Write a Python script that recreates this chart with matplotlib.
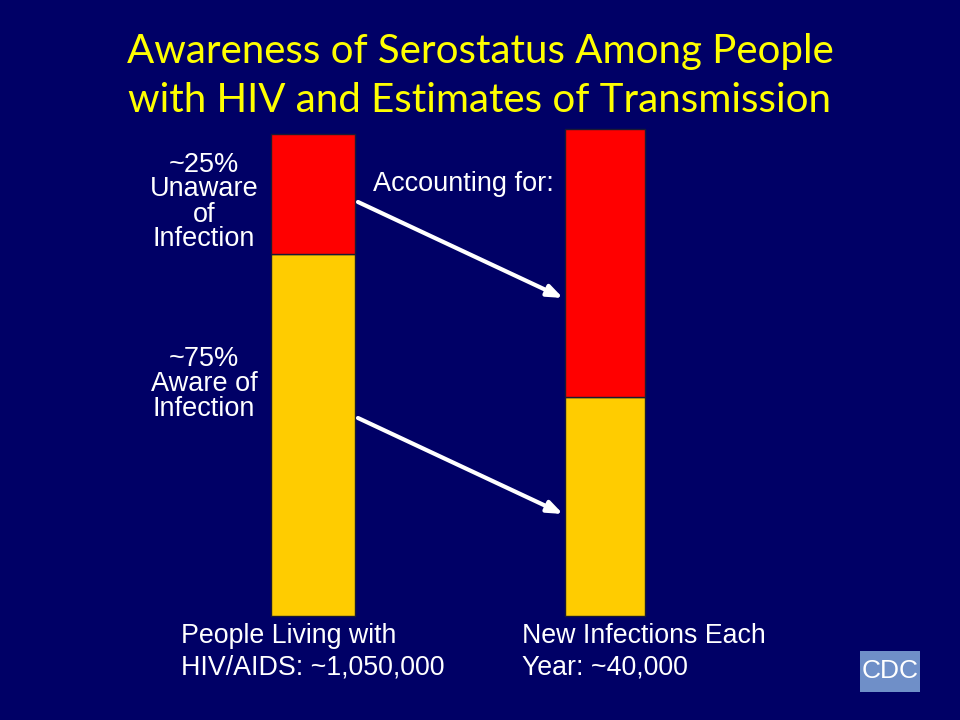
import matplotlib
matplotlib.use("Agg")
import matplotlib.pyplot as plt
from matplotlib.patches import Rectangle

# data (percent of each bar)
groups = ["People Living with\nHIV/AIDS: ~1,050,000", "New Infections Each\nYear: ~40,000"]
aware = [75, 45.5]
unaware = [25, 55.5]

navy = "#000066"
red = "#FF0000"
gold = "#FFCC00"

W, H = 960, 720
fig = plt.figure(figsize=(9.6, 7.2), dpi=100, facecolor=navy)

def fx(x):
    return x / W

def fy(y):
    return 1 - y / H

ax = fig.add_axes([0, 0, 1, 1])
ax.set_facecolor(navy)
ax.set_xlim(-1.072, 2.216)
ax.set_ylim(-21.58, 127.8)
ax.axis("off")

pos = [0, 1]
widths = [0.288, 0.274]
ax.bar(pos, aware, width=widths, color=gold, edgecolor="#1a1a33", linewidth=1)
ax.bar(pos, unaware, bottom=aware, width=widths, color=red, edgecolor="#1a1a33", linewidth=1)

# title
fig.text(0.5, fy(51), "Awareness of Serostatus Among People", color="#FFFF00",
         family="Lato", fontsize=29, ha="center", va="center")
fig.text(0.5, fy(100), "with HIV and Estimates of Transmission", color="#FFFF00",
         family="Lato", fontsize=29, ha="center", va="center")

lab = dict(color="white", family="Liberation Sans", fontsize=19.5, ha="center",
           va="center", linespacing=0.95)
fig.text(fx(204), fy(202), "~25%\nUnaware\nof\nInfection", **lab)
fig.text(fx(204), fy(384), "~75%\nAware of\nInfection", **lab)
fig.text(fx(463), fy(184), "Accounting for:", **lab)

# group labels under bars
fig.text(fx(181), fy(652), groups[0], color="white", family="Liberation Sans",
         fontsize=19.3, ha="left", va="center", linespacing=1.3)
fig.text(fx(522), fy(652), groups[1], color="white", family="Liberation Sans",
         fontsize=19.3, ha="left", va="center", linespacing=1.3)

# arrows
arr = dict(arrowstyle="-|>,head_length=0.9,head_width=0.35", color="white", lw=3,
           shrinkA=0, shrinkB=0)
ax.annotate("", xy=(fx(563), fy(298)), xytext=(fx(358), fy(202)),
            xycoords="figure fraction", textcoords="figure fraction", arrowprops=arr)
ax.annotate("", xy=(fx(563), fy(514)), xytext=(fx(358), fy(418)),
            xycoords="figure fraction", textcoords="figure fraction", arrowprops=arr)

# CDC logo box
fig.patches.append(Rectangle((fx(860), fy(692)), fx(60), 41 / H, transform=fig.transFigure,
                             facecolor="#6f8fc8", edgecolor="none"))
fig.text(fx(890), fy(671), "CDC", color="white", family="Liberation Sans", fontsize=19,
         ha="center", va="center")

fig.savefig("out.png", dpi=100, facecolor=navy)
